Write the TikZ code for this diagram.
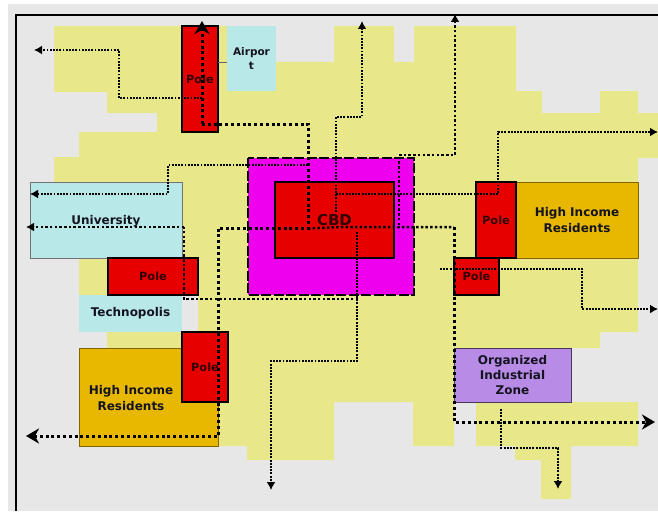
\documentclass[tikz,border=0pt]{standalone}
\usepackage{fontspec}
\setmainfont{DejaVu Sans}
\usetikzlibrary{arrows.meta}
\definecolor{bggray}{HTML}{E7E7E7}
\definecolor{landyellow}{HTML}{E8E88A}
\definecolor{polered}{HTML}{E60000}
\definecolor{cbdmag}{HTML}{EE00EE}
\definecolor{paleblue}{HTML}{B9E8E8}
\definecolor{gold}{HTML}{E8B800}
\definecolor{purp}{HTML}{B88CE6}
\definecolor{inktext}{HTML}{141420}
\tikzset{
  zone/.style={inner sep=0pt,outer sep=0pt,align=center,font=\bfseries\fontsize{12}{15.3}\selectfont,text=inktext},
  polebox/.style={zone,fill=polered,draw=black,line width=1.2pt,font=\bfseries\fontsize{11.3}{13}\selectfont,text=black!80!red},
  goldbox/.style={zone,fill=gold,draw=black!45!gold,line width=.7pt},
  blueplain/.style={zone,fill=paleblue},
  thickroute/.style={line width=3pt,dash pattern=on 3pt off 2.8pt},
  midroute/.style={line width=2.5pt,dash pattern=on 2.5pt off 2.2pt},
  thinroute/.style={line width=1.9pt,dash pattern=on 1.9pt off 1.3pt},
  tipbig/.style={-{Stealth[length=13pt,width=15pt,inset=4pt]}},
  tipmid/.style={-{Latex[length=8pt,width=9pt]}},
}
\begin{document}
\begin{tikzpicture}[x=1pt,y=-1pt]
\useasboundingbox (0,0) rectangle (658,511);
\fill[white] (0,0) rectangle (658,511);
\fill[bggray] (8,4) rectangle (658,511);
\draw[line width=2pt,black] (16,511) -- (16,15) -- (658,15);
% land
\fill[landyellow] (54,26) -- (227,26) -- (227,62) -- (334,62) -- (334,26) -- (394,26) -- (394,62)
  -- (414,62) -- (414,26) -- (516,26) -- (516,91) -- (542,91) -- (542,113) -- (600,113) -- (600,91)
  -- (638,91) -- (638,113) -- (658,113) -- (658,158) -- (638,158) -- (638,332) -- (600,332) -- (600,348)
  -- (571,348) -- (571,402) -- (638,402) -- (638,446) -- (571,446) -- (571,499) -- (541,499) -- (541,460)
  -- (515,460) -- (515,446) -- (476,446) -- (476,402) -- (454,402) -- (454,446) -- (413,446) -- (413,402)
  -- (334,402) -- (334,460) -- (247,460) -- (247,446) -- (79,446) -- (79,348) -- (107,348) -- (107,332)
  -- (198,332) -- (198,295) -- (79,295) -- (79,258) -- (54,258) -- (54,157) -- (79,157) -- (79,132)
  -- (157,132) -- (157,113) -- (107,113) -- (107,92) -- (54,92) -- cycle;
% zones
\node[blueplain,draw=black!55,line width=.6pt,minimum width=152pt,minimum height=76pt] (univ) at (106,220) {};
\node[zone] (univlabel) at (106,221) {University};
\node[blueplain,font=\bfseries\fontsize{10.5}{13.5}\selectfont,minimum width=49pt,minimum height=65pt] (airport) at (251.5,58.5) {Airpor\\t};
\node[blueplain,minimum width=103pt,minimum height=37pt] (techno) at (130.5,313.5) {Technopolis};
\node[goldbox,minimum width=122pt,minimum height=76pt] (hirright) at (577,220) {High Income\\Residents};
\node[goldbox,minimum width=139pt,minimum height=98pt] (hirleft) at (148.5,397) {};
\node[zone] (hirleftlabel) at (131,398) {High Income\\Residents};
\node[zone,fill=purp,draw=black!60!purp,line width=.7pt,minimum width=117pt,minimum height=54pt] (ozone) at (512.5,375) {Organized\\Industrial\\Zone};
\node[zone,fill=cbdmag,minimum width=166pt,minimum height=137pt] (ring) at (331,226.5) {};
\draw[line width=2.6pt,dash pattern=on 10pt off 2.5pt] (ring.north west) rectangle (ring.south east);
\node[polebox,line width=1.8pt,font=\bfseries\fontsize{15}{17}\selectfont,minimum width=119pt,minimum height=76pt] (cbd) at (334.5,220) {CBD};
\node[polebox,minimum width=36pt,minimum height=106pt] (poleN) at (200,79) {Pole};
\node[polebox,minimum width=90pt,minimum height=37pt] (poleW) at (153,276.5) {Pole};
\node[polebox,minimum width=46pt,minimum height=70pt] (poleSW) at (205,367) {Pole};
\node[polebox,minimum width=40pt,minimum height=76pt] (poleE) at (496,220) {Pole};
\node[polebox,minimum width=45pt,minimum height=37pt] (poleSE) at (476.5,276.5) {Pole};
\draw[black!60,line width=.6pt] (poleN.east |- 0,62) -- (airport.west |- 0,62);
% route ends and bends
\coordinate (a0) at (202,124);
\coordinate (aN) at (202,21);
\coordinate (a1) at (308,124);
\coordinate (hub) at (308,228.5);
\coordinate (a2) at (218,228.5);
\coordinate (a3) at (218,436);
\coordinate (aW) at (26,436);
\coordinate (b0) at (202,98);
\coordinate (b1) at (119,98);
\coordinate (b2) at (119,50);
\coordinate (bW) at (34,50);
\coordinate (c0) at (308,165);
\coordinate (c1) at (168,165);
\coordinate (c2) at (168,194);
\coordinate (cW) at (30,194);
\coordinate (d0) at (358,299);
\coordinate (d1) at (184,299);
\coordinate (d2) at (184,227);
\coordinate (dW) at (26,227);
\coordinate (e0) at (342,227);
\coordinate (e1) at (454,227);
\coordinate (e2) at (454,422);
\coordinate (eE) at (655,422);
\coordinate (f0) at (399,225);
\coordinate (f1) at (399,155);
\coordinate (f2) at (455,155);
\coordinate (fN) at (455,14);
\coordinate (g0) at (336,212);
\coordinate (g1) at (336,117);
\coordinate (g2) at (362,117);
\coordinate (gN) at (362,21);
\coordinate (h0) at (336,194);
\coordinate (h1) at (498,194);
\coordinate (h2) at (498,132);
\coordinate (hE) at (658,132);
\coordinate (i0) at (440,269);
\coordinate (i1) at (582,269);
\coordinate (i2) at (582,309);
\coordinate (iE) at (658,309);
\coordinate (j0) at (501,409);
\coordinate (j1) at (501,448);
\coordinate (j2) at (558,448);
\coordinate (jS) at (558,489);
\coordinate (k0) at (357,232);
\coordinate (k1) at (357,361);
\coordinate (k2) at (271,361);
\coordinate (kS) at (271,490);
% routes
\draw[thickroute,tipbig] (a0) -- (aN);
\draw[thickroute] (a0) -- (a1) -- (hub) -- (a2);
\draw[thickroute,tipbig] (a2) -- (a3) -- (aW);
\draw[thinroute,tipmid] (b0) -- (b1) -- (b2) -- (bW);
\draw[thinroute,tipmid] (c0) -- (c1) -- (c2) -- (cW);
\draw[midroute] (d0) -- (d1) -- (d2);
\draw[midroute,tipmid] (d2) -- (dW);
\draw[midroute] (hub) -- (e0) -- (e1);
\draw[thickroute,tipbig] (e1) -- (e2) -- (eE);
\draw[midroute] (f0) -- (f1);
\draw[midroute,tipmid] (f1) -- (f2) -- (fN);
\draw[thinroute,tipmid] (g0) -- (g1) -- (g2) -- (gN);
\draw[thinroute,tipmid] (h0) -- (h1) -- (h2) -- (hE);
\draw[thinroute,tipmid] (i0) -- (i1) -- (i2) -- (iE);
\draw[thinroute,tipmid] (j0) -- (j1) -- (j2) -- (jS);
\draw[thinroute,tipmid] (k0) -- (k1) -- (k2) -- (kS);
\end{tikzpicture}
\end{document}
